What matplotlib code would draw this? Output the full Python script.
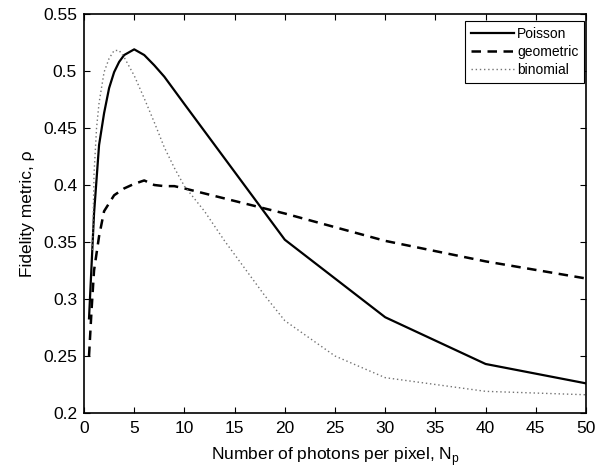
import matplotlib
matplotlib.use("Agg")
import matplotlib.pyplot as plt

plt.rcParams['font.family'] = ['Liberation Sans', 'DejaVu Sans']
plt.rcParams['mathtext.fontset'] = 'custom'
plt.rcParams['mathtext.rm'] = 'Liberation Sans'

# Poisson
x_poisson = [0.5, 1, 1.5, 2, 2.5, 3, 3.5, 4, 5, 6, 7, 8, 10, 20, 30, 40, 50]
y_poisson = [0.283, 0.375, 0.435, 0.463, 0.485, 0.499, 0.508, 0.514, 0.519,
             0.514, 0.505, 0.495, 0.471, 0.352, 0.284, 0.243, 0.226]

# geometric
x_geom = [0.5, 0.75, 1, 1.5, 2, 3, 4, 5, 6, 7, 8, 9, 10, 20, 30, 40, 50]
y_geom = [0.250, 0.290, 0.325, 0.355, 0.377, 0.391, 0.397, 0.401, 0.404,
          0.400, 0.399, 0.399, 0.397, 0.375, 0.351, 0.333, 0.318]

# binomial
x_binom = [0.85, 1, 1.25, 1.5, 2, 2.5, 3, 3.5, 4, 5, 6, 7, 8, 9, 10, 12, 14,
           16, 18, 20, 25, 30, 40, 50]
y_binom = [0.343, 0.410, 0.450, 0.472, 0.499, 0.511, 0.518, 0.518, 0.512,
           0.496, 0.476, 0.455, 0.433, 0.415, 0.399, 0.377, 0.351, 0.327,
           0.303, 0.281, 0.250, 0.231, 0.219, 0.216]

labels = ['Poisson', 'geometric', 'binomial']
x_ticks = [0, 5, 10, 15, 20, 25, 30, 35, 40, 45, 50]
y_ticks = [0.2, 0.25, 0.3, 0.35, 0.4, 0.45, 0.5, 0.55]
y_ticklabels = ['0.2', '0.25', '0.3', '0.35', '0.4', '0.45', '0.5', '0.55']

fig = plt.figure(figsize=(6.06, 4.75), dpi=100)
ax = fig.add_axes([84/606, 62/475, 502/606, 399/475])

ax.plot(x_poisson, y_poisson, color='black', lw=1.6, ls='-', label=labels[0])
ax.plot(x_geom, y_geom, color='black', lw=1.8, ls=(0, (3.8, 2.6)), label=labels[1])
ax.plot(x_binom, y_binom, color='0.45', lw=1.0, ls=(0, (1, 2)), label=labels[2])

ax.set_xlim(0, 50)
ax.set_ylim(0.2, 0.55)
ax.set_xticks(x_ticks)
ax.set_yticks(y_ticks)
ax.set_yticklabels(y_ticklabels)
ax.tick_params(direction='in', top=True, right=True, length=4, width=0.8,
               labelsize=12.5)
ax.tick_params(axis='x', pad=6)
ax.tick_params(axis='y', pad=5)
for s in ax.spines.values():
    s.set_linewidth(1.2)

ax.set_xlabel(r'Number of photons per pixel, N$_\mathregular{p}$', fontsize=12.5,
              labelpad=6)
ax.set_ylabel('Fidelity metric, ρ', fontsize=12.5, labelpad=6)

leg = ax.legend(loc='upper right', bbox_to_anchor=(0.996, 0.982),
                borderaxespad=0, fontsize=10, fancybox=False,
                edgecolor='black', framealpha=1, handlelength=3.1,
                labelspacing=0.3, handletextpad=0.25, borderpad=0.4)
leg.get_frame().set_linewidth(0.8)

fig.savefig('out.png', dpi=100)
